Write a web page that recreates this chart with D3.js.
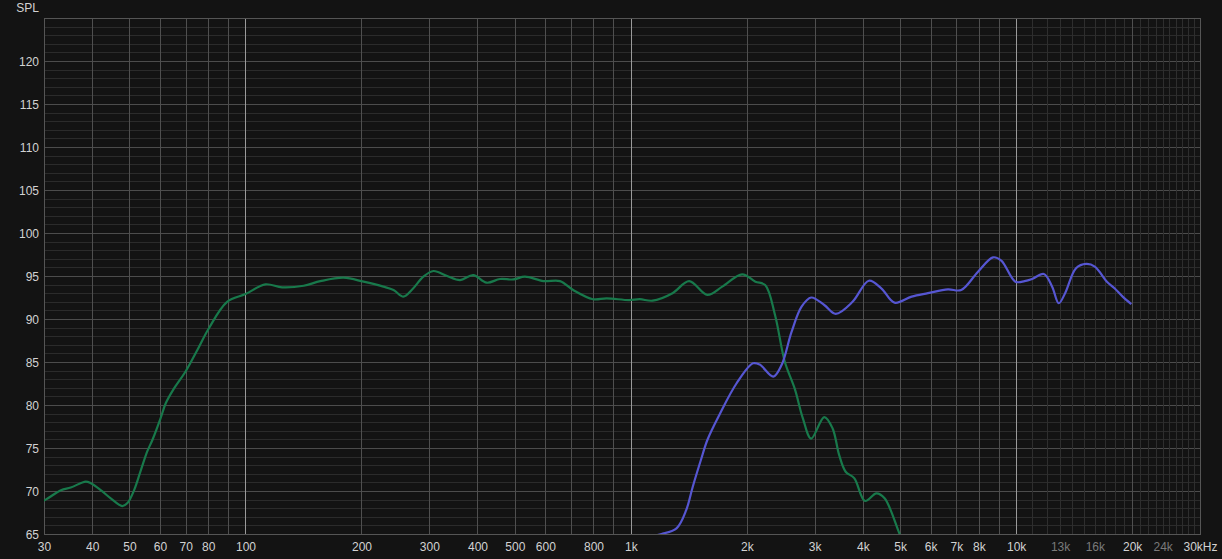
<!DOCTYPE html>
<html>
<head>
<meta charset="utf-8">
<script src="https://cdn.jsdelivr.net/npm/d3@7"></script>
<style>
  html, body { margin: 0; padding: 0; background: #131313; }
  svg { display: block; }
  text { font-family: "Liberation Sans", Arial, sans-serif; font-size: 12px; }
</style>
</head>
<body>
<svg id="chart" width="1222" height="559"></svg>
<script>
// ---- data ----
const wooferFreq = [28, 30.3, 33.2, 35.2, 38.5, 39.7, 42.1, 44.7, 47.9, 49.4, 51.4, 53.5, 55.6, 57.3, 60.2, 62.1, 65.2, 69.9, 75.0, 80.3, 89.6, 100, 112.6, 124.5, 141.6, 156.4, 179.7, 202.5, 228, 242.2, 257, 270, 289.6, 307.4, 332.6, 360.4, 390, 422.4, 457.6, 495.6, 531.3, 593.5, 655, 708.6, 797.8, 865, 990, 1055, 1139, 1283, 1417, 1580, 1727, 1945, 2105, 2232, 2367, 2511, 2663, 2796, 2937, 3177, 3338, 3472, 3610, 3800, 4054, 4337, 4556, 4976, 5150];
const wooferSpl  = [68.3, 69.0, 70.1, 70.4, 71.1, 70.9, 70.1, 69.15, 68.25, 68.6, 70.1, 72.4, 74.6, 75.9, 78.45, 80.2, 81.9, 83.9, 86.4, 88.9, 92.0, 92.9, 94.03, 93.68, 93.87, 94.4, 94.8, 94.34, 93.76, 93.37, 92.6, 93.37, 94.92, 95.58, 95.03, 94.53, 95.1, 94.22, 94.65, 94.6, 94.92, 94.41, 94.41, 93.37, 92.3, 92.4, 92.2, 92.3, 92.13, 93.0, 94.4, 92.8, 93.76, 95.2, 94.34, 93.95, 90.47, 85.0, 81.9, 78.45, 76.1, 78.6, 77.3, 74.2, 72.24, 71.5, 68.84, 69.73, 69.15, 65.08, 63.5];

const tweeterFreq = [1150, 1201, 1314, 1393, 1448, 1520, 1580, 1697, 1880, 2076, 2161, 2343, 2462, 2613, 2774, 2937, 3177, 3402, 3762, 4148, 4467, 4833, 5356, 5905, 6651, 7200, 7962, 8710, 9151, 9950, 10520, 11000, 11800, 12400, 12900, 13400, 14300, 15200, 16000, 17200, 18000, 18900, 19900];
const tweeterSpl  = [64.8, 65.0, 65.66, 67.8, 70.5, 73.6, 75.93, 78.84, 82.5, 84.85, 84.7, 83.3, 84.65, 88.5, 91.43, 92.5, 91.63, 90.6, 92.0, 94.45, 93.57, 91.9, 92.6, 93.0, 93.45, 93.37, 95.5, 97.17, 96.8, 94.34, 94.4, 94.65, 95.23, 93.76, 91.83, 93.0, 95.9, 96.4, 96.1, 94.34, 93.57, 92.6, 91.74];

const xTickValues = [30, 40, 50, 60, 70, 80, 100, 200, 300, 400, 500, 600, 800, 1000, 2000, 3000, 4000, 5000, 6000, 7000, 8000, 10000, 13000, 16000, 20000, 24000, 30000];
const xTickLabels = ["30", "40", "50", "60", "70", "80", "100", "200", "300", "400", "500", "600", "800", "1k", "2k", "3k", "4k", "5k", "6k", "7k", "8k", "10k", "13k", "16k", "20k", "24k", "30kHz"];
const xTickDimmed = [13000, 16000, 24000];
const yTickValues = [65, 70, 75, 80, 85, 90, 95, 100, 105, 110, 115, 120];

// ---- layout ----
const svg = d3.select("#chart");
const mLeft = 44, mRight = 1200, mTop = 18, mBottom = 534;

const x = d3.scaleLog().domain([30, 30000]).range([mLeft, mRight]);
const y = d3.scaleLinear().domain([65, 125]).range([mBottom, mTop]);

// grid: vertical lines
const vLines = [];
for (let f = 30; f < 100; f += 10) vLines.push({f, cls: "major"});
for (let f = 100; f < 1000; f += 100) vLines.push({f, cls: f === 100 ? "bright" : "major"});
for (let f = 1000; f < 10000; f += 1000) vLines.push({f, cls: f === 1000 ? "bright" : "major"});
for (let f = 10000; f <= 30000; f += 1000) vLines.push({f, cls: f === 10000 ? "bright" : (f === 20000 || f === 30000 ? "major" : "faint")});

const hLines = d3.range(65, 126, 1);

const grid = svg.append("g");
grid.selectAll("line.h").data(hLines).join("line")
  .attr("x1", mLeft).attr("x2", mRight)
  .attr("y1", d => Math.round(y(d)) + 0.5).attr("y2", d => Math.round(y(d)) + 0.5)
  .attr("stroke", d => d % 5 === 0 ? "#4c4c4c" : "#2b2b2b")
  .attr("stroke-width", 1);

const vColor = {faint: "#2e2e2e", major: "#4f4f4f", bright: "#9a9a9a"};
grid.append("g").selectAll("line").data(vLines.filter(d => d.cls === "faint")).join("line")
  .attr("x1", d => Math.round(x(d.f)) + 0.5).attr("x2", d => Math.round(x(d.f)) + 0.5)
  .attr("y1", mTop).attr("y2", mBottom)
  .attr("stroke", d => vColor[d.cls]);
grid.append("g").selectAll("line").data(vLines.filter(d => d.cls !== "faint")).join("line")
  .attr("x1", d => Math.round(x(d.f)) + 0.5).attr("x2", d => Math.round(x(d.f)) + 0.5)
  .attr("y1", mTop).attr("y2", mBottom)
  .attr("stroke", d => vColor[d.cls]);

// border
svg.append("rect")
  .attr("x", mLeft + 0.5).attr("y", mTop + 0.5)
  .attr("width", mRight - mLeft).attr("height", mBottom - mTop)
  .attr("fill", "none").attr("stroke", "#555");

// axes labels
const xAxis = d3.axisBottom(x).tickValues(xTickValues)
  .tickFormat((d, i) => xTickLabels[i]).tickSize(0).tickPadding(0);
const gx = svg.append("g").attr("transform", `translate(0,${mBottom})`).call(xAxis);
gx.select(".domain").remove();
gx.selectAll("text")
  .attr("y", 17).attr("dy", 0)
  .attr("fill", d => xTickDimmed.includes(d) ? "#7a7a7a" : "#d2d2d2")
  .style("font-family", "Liberation Sans, Arial, sans-serif").style("font-size", "12px");

const yAxis = d3.axisLeft(y).tickValues(yTickValues).tickSize(0).tickPadding(0);
const gy = svg.append("g").attr("transform", `translate(39,0)`).call(yAxis);
gy.select(".domain").remove();
gy.selectAll("text")
  .attr("x", 0).attr("dy", "0.35em")
  .attr("fill", "#d2d2d2")
  .style("font-family", "Liberation Sans, Arial, sans-serif").style("font-size", "12px");

svg.append("text").attr("x", 39).attr("y", 12).attr("text-anchor", "end")
  .attr("fill", "#d2d2d2").text("SPL");

// curves
svg.append("clipPath").attr("id", "plotclip").append("rect")
  .attr("x", mLeft).attr("y", mTop).attr("width", mRight - mLeft).attr("height", mBottom - mTop);

const line = d3.line().x(d => x(d[0])).y(d => y(d[1])).curve(d3.curveCatmullRom.alpha(0.5));
const plot = svg.append("g").attr("clip-path", "url(#plotclip)");

plot.append("path")
  .datum(wooferFreq.map((f, i) => [f, wooferSpl[i]]))
  .attr("d", line).attr("fill", "none")
  .attr("stroke", "#18794b").attr("stroke-width", 2.2).attr("stroke-linejoin", "round");

plot.append("path")
  .datum(tweeterFreq.map((f, i) => [f, tweeterSpl[i]]))
  .attr("d", line).attr("fill", "none")
  .attr("stroke", "#5656d2").attr("stroke-width", 2.2).attr("stroke-linejoin", "round");
</script>
</body>
</html>
